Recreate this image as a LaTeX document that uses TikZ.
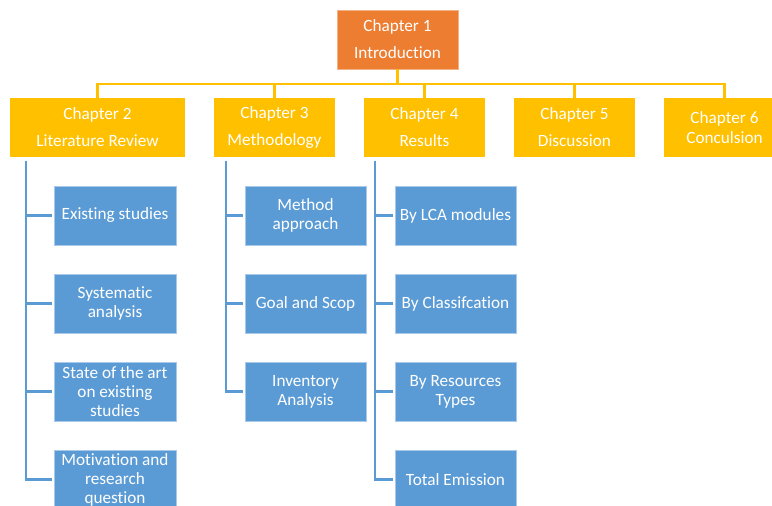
\documentclass[tikz,border=0pt]{standalone}
\usepackage{fontspec}
\setmainfont{Carlito}[Ligatures=NoCommon]
\definecolor{chorange}{HTML}{ED7D31}
\definecolor{chyellow}{HTML}{FFC000}
\definecolor{secblue}{HTML}{5B9BD5}
\definecolor{secedge}{HTML}{A9C9EA}
\begin{document}
\begin{tikzpicture}[x=1pt,y=-1pt,
  chapter/.style={rectangle,fill=chyellow,text=white,inner sep=0pt,outer sep=0pt,
    minimum width=121pt,minimum height=59pt,align=center,
    font=\fontsize{17.2}{27}\selectfont},
  toppart/.style={chapter,fill=chorange,draw=chorange!60!white,line width=0.6pt},
  section/.style={rectangle,fill=secblue,draw=secedge,line width=0.7pt,text=white,
    inner sep=0pt,outer sep=0pt,minimum width=121pt,minimum height=59pt,align=center,
    font=\fontsize{17.2}{19}\selectfont},
  ylink/.style={draw=chyellow,line width=2.8pt},
  blink/.style={draw=secblue,line width=2.8pt,shorten >=2pt}]
\clip (0,0) rectangle (772,506);
\fill[white] (0,0) rectangle (772,506);

% chapter boxes
\node[toppart] (ch1) at (397.5,39.5) {Chapter 1\\Introduction};
\node[chapter,minimum width=175pt] (ch2) at (97.5,127.5) {Chapter 2\\Literature Review};
\node[chapter] (ch3) at (274.5,127.5) {Chapter 3\\Methodology};
\node[chapter] (ch4) at (424.5,127.5) {Chapter 4\\Results};
\node[chapter] (ch5) at (574.5,127.5) {Chapter 5\\Discussion};
\node[chapter,font=\fontsize{17.2}{20}\selectfont] (ch6) at (724.5,127.5) {Chapter 6\\Conculsion};

% chapter tree
\coordinate (hub) at (397.5,84);
\draw[ylink] (ch1.south) -- (hub);
\foreach \c in {ch2,ch3,ch4,ch5,ch6}
  \draw[ylink] (\c.north) |- (hub);

% sections of chapter 2
\node[section,minimum width=122pt] (a1) at (115,215.5) {Existing studies};
\node[section,minimum width=122pt] (a2) at (115,303.5) {Systematic\\analysis};
\node[section,minimum width=122pt] (a3) at (115,391.5) {State of the art\\on existing\\studies};
\node[section,minimum width=122pt] (a4) at (115,479.5) {Motivation and\\research\\question};

% sections of chapter 3
\node[section] (b1) at (305.5,215.5) {Method\\approach};
\node[section] (b2) at (305.5,303.5) {Goal and Scop};
\node[section] (b3) at (305.5,391.5) {Inventory\\Analysis};

% sections of chapter 4
\node[section] (c1) at (455.5,215.5) {By LCA modules};
\node[section] (c2) at (455.5,303.5) {By Classifcation};
\node[section] (c3) at (455.5,391.5) {By Resources\\Types};
\node[section] (c4) at (455.5,479.5) {Total Emission};

% section spines
\coordinate (sa) at (26,161);
\coordinate (sb) at (226,161);
\coordinate (sc) at (375,161);
\foreach \n in {a1,a2,a3,a4} \draw[blink] (sa) |- (\n.west);
\foreach \n in {b1,b2,b3} \draw[blink] (sb) |- (\n.west);
\foreach \n in {c1,c2,c3,c4} \draw[blink] (sc) |- (\n.west);
\end{tikzpicture}
\end{document}
